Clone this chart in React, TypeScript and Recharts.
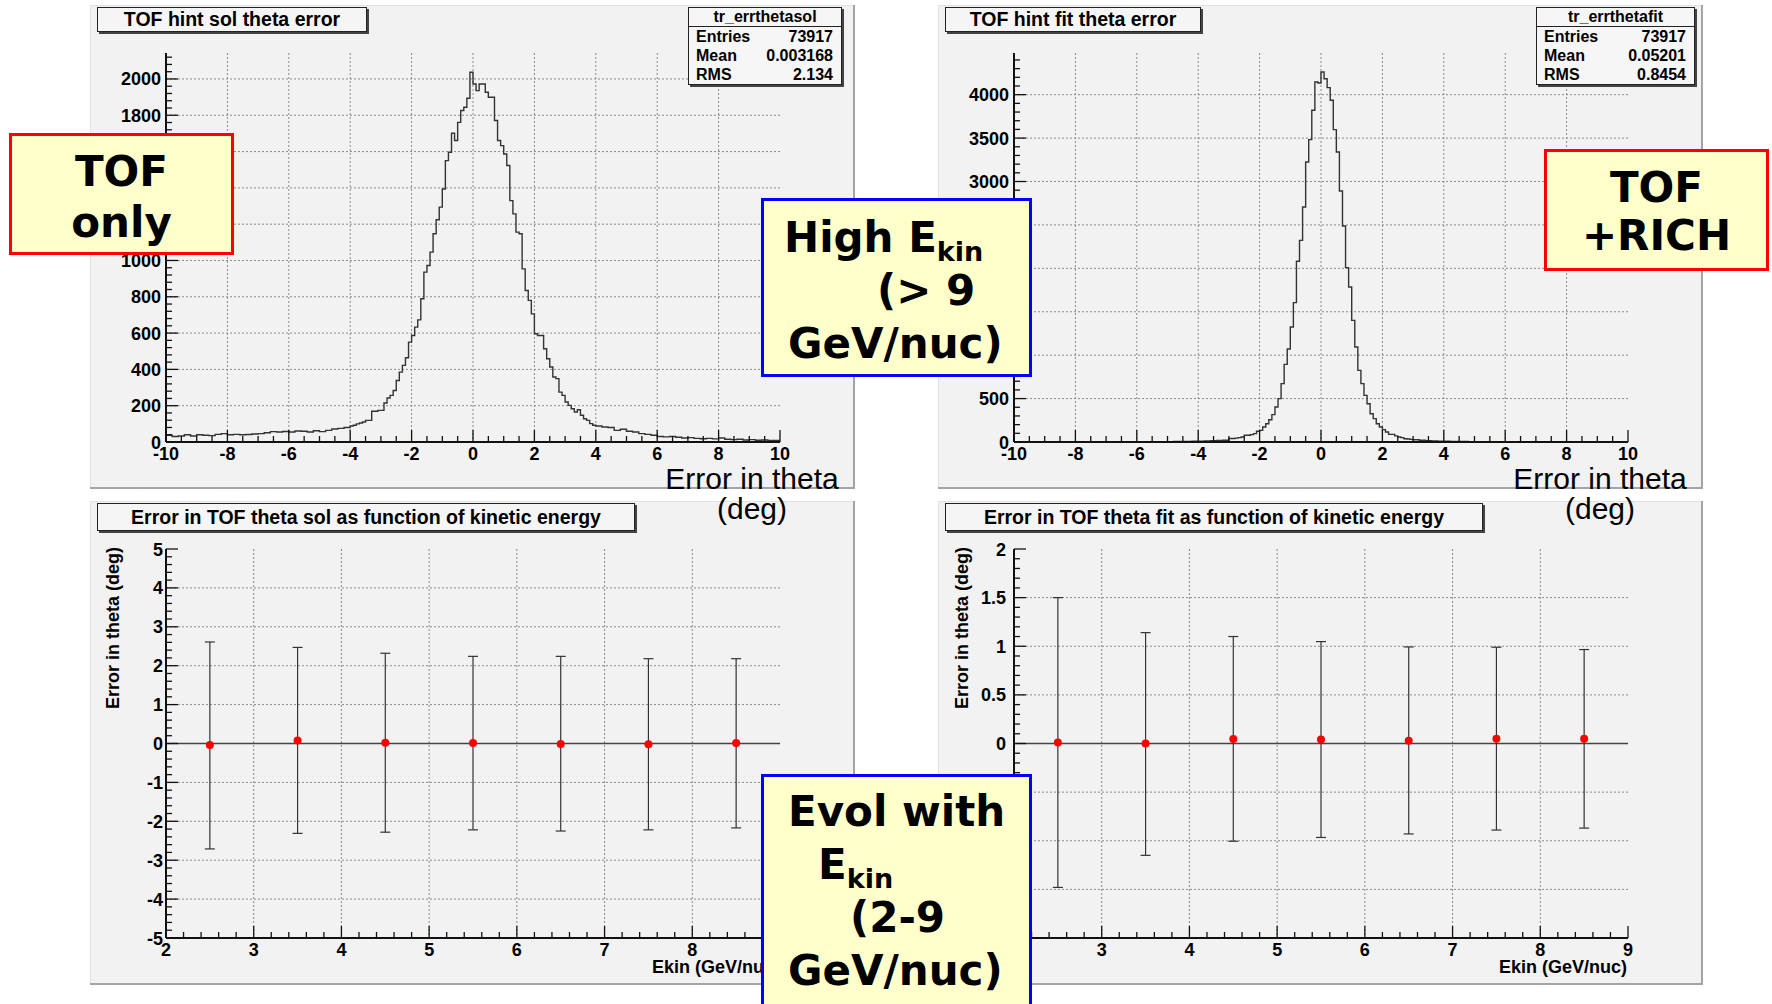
import React from "react";
import {
  ComposedChart,
  Line,
  Scatter,
  ErrorBar,
  XAxis,
  YAxis,
  CartesianGrid,
  ReferenceLine,
} from "recharts";

const FONT = "'Liberation Sans', Arial, Helvetica, sans-serif";
const NOTE_FONT = "'DejaVu Sans', Verdana, sans-serif";

// ---- top row: theta error histograms, counts per bin ----
// TOF only (tr_errthetasol)
const solTailLeft = [
  37, 30, 33, 40, 33, 40, 37, 35, 42, 46, 40, 42, 40, 41, 44, 46, 51, 57, 55, 58,
  55, 61, 59, 55, 62, 57, 64, 72, 75, 80,
]; // -10 .. -4.2, bins of 0.2
const solCore = [
  88, 92, 100, 105, 110, 119, 119, 169, 169, 174,
  174, 215, 242, 257, 284, 339, 385, 422, 464, 550,
  587, 633, 673, 789, 936, 972, 1046, 1147, 1224, 1294,
  1394, 1550, 1596, 1701, 1661, 1761, 1826, 1844, 1894, 2037,
  1972, 1936, 1972, 1972, 1927, 1899, 1899, 1771, 1661, 1633,
  1587, 1523, 1330, 1257, 1156, 1147, 954, 835, 780, 706,
  596, 587, 587, 514, 459, 413, 358, 349, 275, 257,
  220, 202, 183, 165, 178, 147, 128, 119, 101, 92,
]; // -4.0 .. 3.9, bins of 0.1
const solTailRight = [
  88, 83, 80, 64, 70, 59, 55, 46, 42, 37, 30, 28, 30, 26, 22, 24, 20, 18, 20, 17,
  22, 15, 13, 15, 11, 13, 10, 11, 9, 8,
]; // 4.0 .. 9.8, bins of 0.2

// TOF + RICH (tr_errthetafit)
const fitTailLeft = [
  0, 0, 1, 0, 0, 0, 1, 0, 0, 1, 0, 1, 0, 1, 1, 0, 1, 2, 1, 2,
  2, 3, 2, 4, 3, 4, 5, 5, 7, 8, 10, 11, 14, 17, 21,
]; // -10 .. -3.2, bins of 0.2
const fitCore = [
  40, 40, 45, 50, 58, 77, 77, 85, 96, 123,
  134, 173, 211, 257, 315, 403, 499, 672, 894, 1071,
  1324, 1605, 2081, 2322, 2706, 3225, 3482, 3820, 4146, 4134,
  4261, 4184, 4081, 3935, 3597, 3340, 2891, 2487, 2008, 1785,
  1401, 1094, 825, 672, 537, 441, 326, 269, 211, 173,
  142, 115, 88, 88, 70, 58, 50, 38, 35, 30,
]; // -3.0 .. 2.9, bins of 0.1
const fitTailRight = [
  26, 20, 15, 12, 10, 8, 7, 5, 5, 4, 3, 3, 2, 2, 2, 1, 1, 1, 0, 1,
  0, 0, 1, 0, 0, 0, 1, 0, 0, 0, 0, 0, 0, 0, 0,
]; // 3.0 .. 9.8, bins of 0.2

// ---- bottom row: error vs kinetic energy ----
const ekinBins = [2.5, 3.5, 4.5, 5.5, 6.5, 7.5, 8.5];
const solMean = [-0.04, 0.08, 0.02, 0.01, -0.01, -0.02, 0.01];
const solErrDown = [2.67, 2.39, 2.3, 2.23, 2.24, 2.2, 2.18];
const solErrUp = [2.65, 2.39, 2.3, 2.23, 2.25, 2.2, 2.17];
const fitMean = [0.01, 0.0, 0.045, 0.04, 0.027, 0.048, 0.05];
const fitErrDown = [1.49, 1.15, 1.05, 1.006, 0.957, 0.938, 0.92];
const fitErrUp = [1.49, 1.14, 1.055, 1.008, 0.966, 0.942, 0.916];

// ---- axis ticks ----
const histXMajor = [-10, -8, -6, -4, -2, 0, 2, 4, 6, 8, 10];
const solYMajor = [0, 200, 400, 600, 800, 1000, 1200, 1400, 1600, 1800, 2000];
const fitYMajor = [0, 500, 1000, 1500, 2000, 2500, 3000, 3500, 4000];
const ekinMajor = [2, 3, 4, 5, 6, 7, 8, 9];
const solGraphYMajor = [-5, -4, -3, -2, -1, 0, 1, 2, 3, 4, 5];
const fitGraphYMajor = [-2, -1.5, -1, -0.5, 0, 0.5, 1, 1.5, 2];

function steps(from: number, to: number, step: number) {
  const out: number[] = [];
  const n = Math.round((to - from) / step);
  for (let i = 0; i <= n; i++) out.push(+(from + i * step).toFixed(3));
  return out;
}

type Seg = { from: number; width: number; counts: number[] };
function histRows(segs: Seg[], end: number) {
  const rows: { x: number; n: number }[] = [];
  segs.forEach((s) =>
    s.counts.forEach((n, i) => rows.push({ x: +(s.from + i * s.width).toFixed(2), n }))
  );
  rows.push({ x: end, n: rows[rows.length - 1].n });
  return rows;
}

const solRows = histRows(
  [
    { from: -10, width: 0.2, counts: solTailLeft },
    { from: -4, width: 0.1, counts: solCore },
    { from: 4, width: 0.2, counts: solTailRight },
  ],
  10
);
const fitRows = histRows(
  [
    { from: -10, width: 0.2, counts: fitTailLeft },
    { from: -3, width: 0.1, counts: fitCore },
    { from: 3, width: 0.2, counts: fitTailRight },
  ],
  10
);

const solGraph = ekinBins.map((e, i) => ({ e, y: solMean[i], err: [solErrDown[i], solErrUp[i]] }));
const fitGraph = ekinBins.map((e, i) => ({ e, y: fitMean[i], err: [fitErrDown[i], fitErrUp[i]] }));

const isMajor = (majors: number[], v: number) => majors.some((m) => Math.abs(m - v) < 1e-6);

const xTick = (majors: number[]) => (p: any) => {
  const v = p.payload.value;
  const big = isMajor(majors, v);
  return (
    <g>
      <line x1={p.x} x2={p.x} y1={p.y} y2={p.y - (big ? 12 : 6)} stroke="#111" strokeWidth={1.3} />
      {big && (
        <text x={p.x} y={p.y + 18} textAnchor="middle" fontFamily={FONT} fontWeight="bold" fontSize={18} fill="#000">
          {String(v)}
        </text>
      )}
    </g>
  );
};

const yTick = (majors: number[], gap: number) => (p: any) => {
  const v = p.payload.value;
  const big = isMajor(majors, v);
  return (
    <g>
      <line x1={p.x} x2={p.x + (big ? 12 : 6)} y1={p.y} y2={p.y} stroke="#111" strokeWidth={1.3} />
      {big && (
        <text x={p.x - gap} y={p.y + 6.5} textAnchor="end" fontFamily={FONT} fontWeight="bold" fontSize={18} fill="#000">
          {String(v)}
        </text>
      )}
    </g>
  );
};

const PAD_W = 765;
const PAD_H = 484;
const MARGIN = { top: 48, right: 75, bottom: 17, left: 26 };
const gridStyle = { stroke: "#8a8a8a", strokeDasharray: "2 2", strokeWidth: 1 };
const axisLine = { stroke: "#111", strokeWidth: 2 };
const frameLine = { stroke: "#222", strokeWidth: 1.5 };

function Pad({ left, top, children }: { left: number; top: number; children: React.ReactNode }) {
  return (
    <div
      style={{
        position: "absolute",
        left,
        top,
        width: PAD_W,
        height: PAD_H,
        background: "#f2f2f2",
        boxShadow: "inset -2px -2px 0 #a4a4a4, inset 1px 1px 0 #e2e2e2",
      }}
    >
      {children}
    </div>
  );
}

function HistChart({
  rows,
  yMax,
  yMajor,
  yMinor,
}: {
  rows: { x: number; n: number }[];
  yMax: number;
  yMajor: number[];
  yMinor: number;
}) {
  return (
    <ComposedChart width={PAD_W} height={PAD_H} data={rows} margin={MARGIN}>
      <CartesianGrid {...gridStyle} horizontalValues={yMajor.slice(1)} verticalValues={histXMajor.slice(1, -1)} />
      <XAxis
        dataKey="x"
        type="number"
        domain={[-10, 10]}
        allowDataOverflow
        ticks={steps(-10, 10, 0.5)}
        interval={0}
        height={30}
        tickSize={0}
        tickMargin={0}
        tickLine={false}
        axisLine={axisLine}
        tick={xTick(histXMajor)}
      />
      <YAxis
        type="number"
        domain={[0, yMax]}
        allowDataOverflow
        ticks={steps(0, Math.floor(yMax / yMinor) * yMinor, yMinor)}
        interval={0}
        width={50}
        tickSize={0}
        tickMargin={0}
        tickLine={false}
        axisLine={axisLine}
        tick={yTick(yMajor, 5)}
      />
      <XAxis xAxisId="top" orientation="top" type="number" domain={[-10, 10]} height={0} tick={false} tickLine={false} axisLine={frameLine} />
      <YAxis yAxisId="right" orientation="right" type="number" domain={[0, yMax]} width={0} tick={false} tickLine={false} axisLine={frameLine} />
      <Line type="stepAfter" dataKey="n" stroke="#333" strokeWidth={1.4} dot={false} isAnimationActive={false} />
    </ComposedChart>
  );
}

const redDot = (p: any) => <circle cx={p.cx} cy={p.cy} r={4} fill="#ff0000" />;

function GraphChart({
  rows,
  yDom,
  yMajor,
  yMinor,
  labelGap,
}: {
  rows: { e: number; y: number; err: number[] }[];
  yDom: [number, number];
  yMajor: number[];
  yMinor: number;
  labelGap: number;
}) {
  return (
    <ComposedChart width={PAD_W} height={PAD_H} data={rows} margin={MARGIN}>
      <CartesianGrid {...gridStyle} horizontalValues={yMajor.slice(1, -1)} verticalValues={ekinMajor.slice(1, -1)} />
      <XAxis
        dataKey="e"
        type="number"
        domain={[2, 9]}
        allowDataOverflow
        ticks={steps(2, 9, 0.2)}
        interval={0}
        height={30}
        tickSize={0}
        tickMargin={0}
        tickLine={false}
        axisLine={axisLine}
        tick={xTick(ekinMajor)}
      />
      <YAxis
        type="number"
        domain={yDom}
        allowDataOverflow
        ticks={steps(yDom[0], yDom[1], yMinor)}
        interval={0}
        width={50}
        tickSize={0}
        tickMargin={0}
        tickLine={false}
        axisLine={axisLine}
        tick={yTick(yMajor, labelGap)}
      />
      <XAxis xAxisId="top" orientation="top" type="number" domain={[2, 9]} height={0} tick={false} tickLine={false} axisLine={frameLine} />
      <YAxis yAxisId="right" orientation="right" type="number" domain={yDom} width={0} tick={false} tickLine={false} axisLine={frameLine} />
      <ReferenceLine y={0} stroke="#444" strokeWidth={1.6} />
      <Scatter dataKey="y" shape={redDot} isAnimationActive={false}>
        <ErrorBar dataKey="err" direction="y" width={5} stroke="#333" strokeWidth={1.2} isAnimationActive={false} />
      </Scatter>
    </ComposedChart>
  );
}

function TitleBox({ left, top, width, height, text }: { left: number; top: number; width: number; height: number; text: string }) {
  return (
    <div
      style={{
        position: "absolute",
        left,
        top,
        width,
        height,
        boxSizing: "border-box",
        border: "1px solid #222",
        background: "#f5f5f5",
        boxShadow: "2px 2px 0 #444",
        font: `bold 19.5px ${FONT}`,
        lineHeight: `${height - 2}px`,
        textAlign: "center",
        color: "#000",
      }}
    >
      {text}
    </div>
  );
}

function StatsBox({ left, width, name, entries, mean, rms }: { left: number; width: number; name: string; entries: string; mean: string; rms: string }) {
  const row = (label: string, value: string) => (
    <div style={{ display: "flex", justifyContent: "space-between", height: 19, lineHeight: "19px", padding: "0 8px 0 7px" }}>
      <span>{label}</span>
      <span>{value}</span>
    </div>
  );
  return (
    <div
      style={{
        position: "absolute",
        left,
        top: 7,
        width,
        height: 78,
        boxSizing: "border-box",
        border: "1px solid #222",
        background: "#f6f6f6",
        boxShadow: "2px 2px 0 #444",
        font: `bold 16px ${FONT}`,
        color: "#000",
      }}
    >
      <div style={{ height: 18, lineHeight: "18px", textAlign: "center", borderBottom: "1px solid #222" }}>{name}</div>
      {row("Entries", entries)}
      {row("Mean", mean)}
      {row("RMS", rms)}
    </div>
  );
}

function Note({
  left,
  top,
  width,
  height,
  color,
  padTop,
  lineHeight,
  children,
}: {
  left: number;
  top: number;
  width: number;
  height: number;
  color: string;
  padTop: number;
  lineHeight: number;
  children: React.ReactNode;
}) {
  return (
    <div
      style={{
        position: "absolute",
        left,
        top,
        width,
        height,
        boxSizing: "border-box",
        border: `3.5px solid ${color}`,
        background: "#ffffcc",
        paddingTop: padTop,
        font: `bold 42px ${NOTE_FONT}`,
        lineHeight: `${lineHeight}px`,
        color: "#000",
        whiteSpace: "nowrap",
      }}
    >
      {children}
    </div>
  );
}

// subscript shifted without growing the line box
const sub: React.CSSProperties = { fontSize: 27, position: "relative", top: "0.35em", lineHeight: 0 };

function YTitle({ cx, cy, text }: { cx: number; cy: number; text: string }) {
  return (
    <div
      style={{
        position: "absolute",
        left: cx - 85,
        top: cy - 11,
        width: 170,
        height: 22,
        lineHeight: "22px",
        textAlign: "right",
        font: `bold 18px ${FONT}`,
        transform: "rotate(-90deg)",
        color: "#000",
      }}
    >
      {text}
    </div>
  );
}

function XTitle({ right, top, text }: { right: number; top: number; text: string }) {
  return (
    <div
      style={{
        position: "absolute",
        left: right - 220,
        top,
        width: 220,
        lineHeight: "22px",
        textAlign: "right",
        font: `bold 18px ${FONT}`,
        color: "#000",
      }}
    >
      {text}
    </div>
  );
}

function ThetaTitle({ cx }: { cx: number }) {
  return (
    <div
      style={{
        position: "absolute",
        left: cx - 120,
        top: 464,
        width: 240,
        textAlign: "center",
        font: `30px ${FONT}`,
        lineHeight: "30px",
        color: "#000",
      }}
    >
      Error in theta
      <br />
      (deg)
    </div>
  );
}

export default function App() {
  return (
    <div style={{ position: "absolute", left: 0, top: 0, width: 1772, height: 1004, background: "#fff", overflow: "hidden" }}>
      <Pad left={90} top={5}>
        <HistChart rows={solRows} yMax={2143} yMajor={solYMajor} yMinor={40} />
      </Pad>
      <Pad left={938} top={5}>
        <HistChart rows={fitRows} yMax={4480} yMajor={fitYMajor} yMinor={100} />
      </Pad>
      <Pad left={90} top={501}>
        <GraphChart rows={solGraph} yDom={[-5, 5]} yMajor={solGraphYMajor} yMinor={0.2} labelGap={3} />
      </Pad>
      <Pad left={938} top={501}>
        <GraphChart rows={fitGraph} yDom={[-2, 2]} yMajor={fitGraphYMajor} yMinor={0.1} labelGap={8} />
      </Pad>

      <TitleBox left={97} top={7} width={270} height={25} text="TOF hint sol theta error" />
      <TitleBox left={945} top={7} width={256} height={25} text="TOF hint fit theta error" />
      <TitleBox left={97} top={503} width={538} height={28} text="Error in TOF theta sol as function of kinetic energy" />
      <TitleBox left={945} top={503} width={538} height={28} text="Error in TOF theta fit as function of kinetic energy" />

      <StatsBox left={688} width={154} name="tr_errthetasol" entries="73917" mean="0.003168" rms="2.134" />
      <StatsBox left={1536} width={159} name="tr_errthetafit" entries="73917" mean="0.05201" rms="0.8454" />

      <ThetaTitle cx={752} />
      <ThetaTitle cx={1600} />
      <YTitle cx={114} cy={632} text="Error in theta (deg)" />
      <YTitle cx={963} cy={632} text="Error in theta (deg)" />
      <XTitle right={780} top={957} text="Ekin (GeV/nuc)" />
      <XTitle right={1627} top={957} text="Ekin (GeV/nuc)" />

      <Note left={9} top={133} width={225} height={122} color="#ff0000" padTop={10} lineHeight={51}>
        <div style={{ textAlign: "center" }}>TOF</div>
        <div style={{ textAlign: "center" }}>only</div>
      </Note>
      <Note left={1544} top={149} width={225} height={122} color="#ff0000" padTop={12} lineHeight={48}>
        <div style={{ textAlign: "center" }}>TOF</div>
        <div style={{ textAlign: "center" }}>+RICH</div>
      </Note>
      <Note left={761} top={198} width={271} height={179} color="#0000ff" padTop={10} lineHeight={53}>
        <div style={{ paddingLeft: 20 }}>
          High E<span style={sub}>kin</span>
        </div>
        <div style={{ paddingLeft: 113 }}>(&gt; 9</div>
        <div style={{ paddingLeft: 24 }}>GeV/nuc)</div>
      </Note>
      <Note left={761} top={774} width={271} height={245} color="#0000ff" padTop={8} lineHeight={53}>
        <div style={{ paddingLeft: 24 }}>Evol with</div>
        <div style={{ paddingLeft: 54 }}>
          E<span style={sub}>kin</span>
        </div>
        <div style={{ paddingLeft: 86 }}>(2-9</div>
        <div style={{ paddingLeft: 24 }}>GeV/nuc)</div>
      </Note>
    </div>
  );
}
